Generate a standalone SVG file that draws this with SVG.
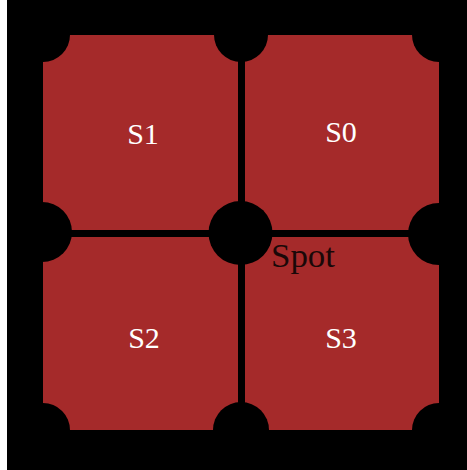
<svg xmlns="http://www.w3.org/2000/svg" width="467" height="470" viewBox="0 0 467 470">
  <style>
    .pocket { fill: #000; }
    .rail { stroke: #000; stroke-width: 7; }
    .label { font-family: "Liberation Serif", "DejaVu Serif", serif; font-size: 30px; fill: #fff; text-anchor: middle; }
    .spot { font-family: "Liberation Serif", "DejaVu Serif", serif; font-size: 33px; fill: #1a0808; }
  </style>
  <rect x="0" y="0" width="467" height="470" fill="#fff"/>
  <rect x="7" y="0" width="460" height="470" fill="#000"/>
  <rect id="table" x="43" y="35" width="396" height="395" fill="#a52a2a"/>
  <g id="dividers">
    <line class="rail" x1="241.5" y1="35" x2="241.5" y2="430"/>
    <line class="rail" x1="43" y1="233.5" x2="439" y2="233.5"/>
  </g>
  <g id="pockets">
    <circle class="pocket" cx="43" cy="35" r="27"/>
    <circle class="pocket" cx="439" cy="35" r="27"/>
    <circle class="pocket" cx="43" cy="430" r="27"/>
    <circle class="pocket" cx="439" cy="430" r="27"/>
    <circle class="pocket" cx="241" cy="35" r="27"/>
    <circle class="pocket" cx="241" cy="430" r="28"/>
    <circle class="pocket" cx="42" cy="232" r="30"/>
    <circle class="pocket" cx="439" cy="234" r="31"/>
    <circle id="center-spot" class="pocket" cx="240.5" cy="233" r="32"/>
  </g>
  <g id="s1"><text class="label" x="143" y="144">S1</text></g>
  <g id="s0"><text class="label" x="341" y="142">S0</text></g>
  <g id="s2"><text class="label" x="144" y="348">S2</text></g>
  <g id="s3"><text class="label" x="341" y="348">S3</text></g>
  <g id="spot-label"><text class="spot" x="271" y="267" textLength="64" lengthAdjust="spacingAndGlyphs">Spot</text></g>
</svg>
